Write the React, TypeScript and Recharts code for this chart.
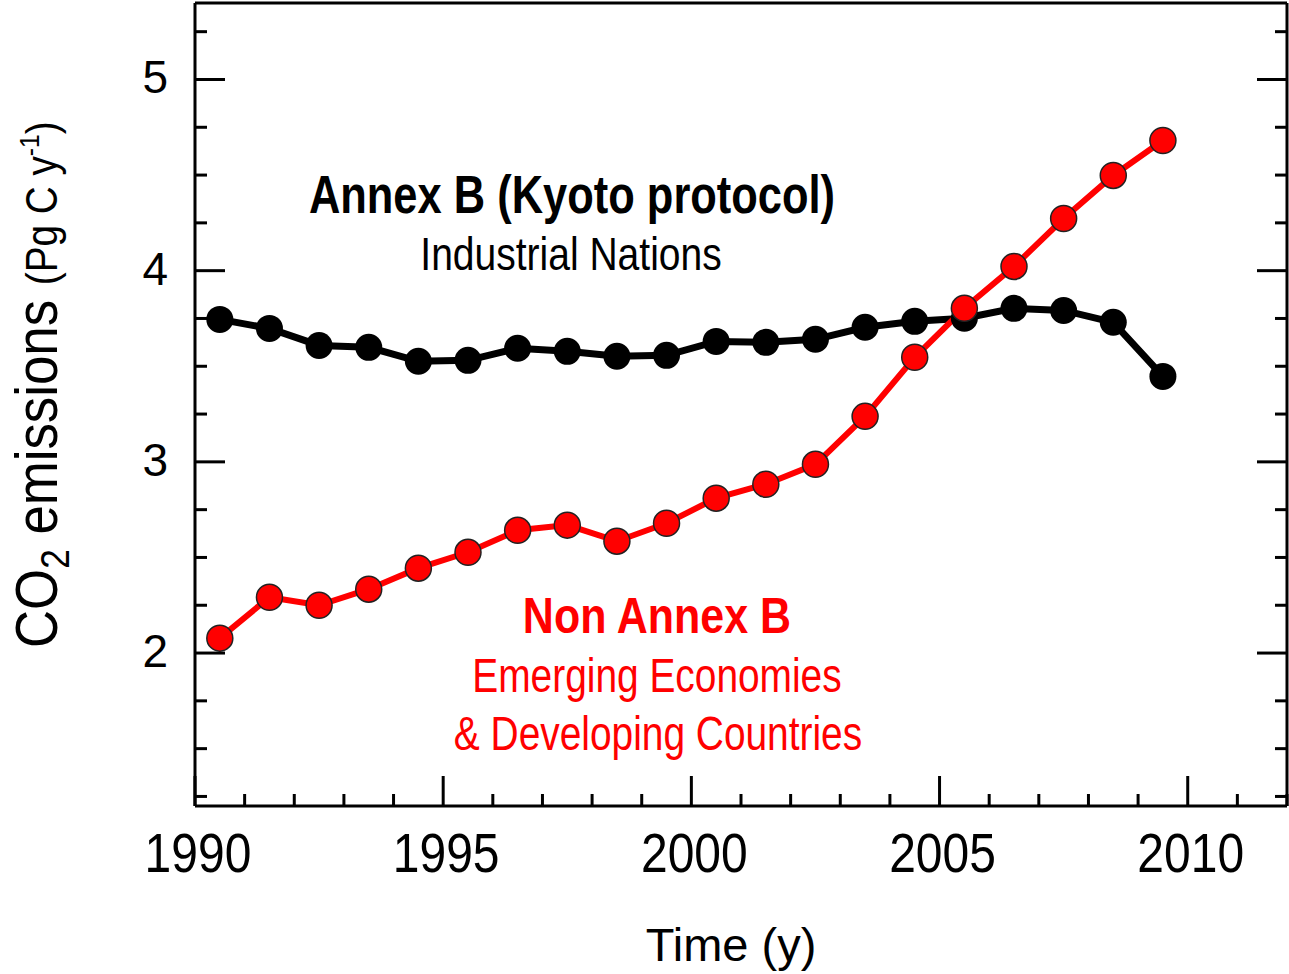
import React from 'react';
import { LineChart, Line, XAxis, YAxis } from 'recharts';

// annual fossil CO2 emissions, Pg C per year (mid-year points)
const years = [
  1990.5, 1991.5, 1992.5, 1993.5, 1994.5, 1995.5, 1996.5, 1997.5, 1998.5, 1999.5,
  2000.5, 2001.5, 2002.5, 2003.5, 2004.5, 2005.5, 2006.5, 2007.5, 2008.5, 2009.5,
];
const annexB = [
  3.745, 3.698, 3.609, 3.599, 3.526, 3.531, 3.594, 3.578, 3.552, 3.557,
  3.63, 3.625, 3.641, 3.704, 3.735, 3.751, 3.803, 3.792, 3.73, 3.447,
];
const nonAnnexB = [
  2.078, 2.292, 2.25, 2.334, 2.444, 2.527, 2.642, 2.669, 2.585, 2.679,
  2.81, 2.883, 2.987, 3.238, 3.547, 3.803, 4.022, 4.273, 4.498, 4.681,
];

const xTicks = [
  1990, 1991, 1992, 1993, 1994, 1995, 1996, 1997, 1998, 1999, 2000,
  2001, 2002, 2003, 2004, 2005, 2006, 2007, 2008, 2009, 2010, 2011, 2012,
];
const yTicks = [
  1.25, 1.5, 1.75, 2, 2.25, 2.5, 2.75, 3, 3.25, 3.5, 3.75, 4, 4.25, 4.5, 4.75, 5, 5.25,
];

const data = years.map((year, i) => ({ year, annexB: annexB[i], nonAnnexB: nonAnnexB[i] }));

const W = 1289;
const H = 974;
const FONT = '"Liberation Sans", Arial, Helvetica, sans-serif';
const RED = '#ff0000';

const XTick = ({ x, y, payload, side }: any) => {
  const major = payload.value % 5 === 0;
  const len = major ? 30 : 12;
  const dir = side === 'bottom' ? -1 : 1;
  return (
    <g>
      <line x1={x} y1={y} x2={x} y2={y + dir * len} stroke="#000" strokeWidth={3} />
      {side === 'bottom' && major && payload.value < 2012 && (
        <text
          transform={`translate(${x + 3},${y + 66}) scale(0.96,1.12)`}
          textAnchor="middle"
          fontSize={50}
          fontFamily={FONT}
          fill="#000"
        >
          {payload.value}
        </text>
      )}
    </g>
  );
};

const YTick = ({ x, y, payload, side }: any) => {
  const major = Math.abs(payload.value - Math.round(payload.value)) < 1e-6;
  const len = major ? 30 : 12;
  const dir = side === 'left' ? 1 : -1;
  return (
    <g>
      <line x1={x} y1={y} x2={x + dir * len} y2={y} stroke="#000" strokeWidth={3} />
      {side === 'left' && major && (
        <text x={x - 27} y={y + 14} textAnchor="end" fontSize={46} fontFamily={FONT} fill="#000">
          {payload.value}
        </text>
      )}
    </g>
  );
};

const blackDot = (props: any) => (
  <circle key={`b${props.index}`} cx={props.cx} cy={props.cy} r={13.5} fill="#000" />
);
const redDot = (props: any) => (
  <circle key={`r${props.index}`} cx={props.cx} cy={props.cy} r={13} fill={RED} stroke="#222" strokeWidth={1.5} />
);

const axisLine = { stroke: '#000', strokeWidth: 3 };

export default function App() {
  return (
    <div style={{ position: 'absolute', left: 0, top: 0, width: W, height: H, background: '#fff' }}>
      <LineChart width={W} height={H} data={data} margin={{ top: 0, right: 0, bottom: 0, left: 0 }}>
        <XAxis
          dataKey="year"
          type="number"
          domain={[1990, 2012]}
          ticks={xTicks}
          interval={0}
          height={168}
          tickSize={0}
          tickMargin={0}
          tickLine={false}
          axisLine={axisLine}
          tick={(p: any) => <XTick {...p} side="bottom" />}
          allowDataOverflow
        />
        <XAxis
          xAxisId="top"
          orientation="top"
          type="number"
          domain={[1990, 2012]}
          ticks={xTicks}
          interval={0}
          height={3}
          tickSize={0}
          tickMargin={0}
          tickLine={false}
          axisLine={axisLine}
          tick={(p: any) => <XTick {...p} side="top" />}
          allowDataOverflow
        />
        <YAxis
          type="number"
          domain={[1.2, 5.4]}
          ticks={yTicks}
          interval={0}
          width={195}
          tickSize={0}
          tickMargin={0}
          tickLine={false}
          axisLine={axisLine}
          tick={(p: any) => <YTick {...p} side="left" />}
          allowDataOverflow
        />
        <YAxis
          yAxisId="right"
          orientation="right"
          type="number"
          domain={[1.2, 5.4]}
          ticks={yTicks}
          interval={0}
          width={2}
          tickSize={0}
          tickMargin={0}
          tickLine={false}
          axisLine={axisLine}
          tick={(p: any) => <YTick {...p} side="right" />}
          allowDataOverflow
        />
        <Line
          dataKey="annexB"
          stroke="#000"
          strokeWidth={7}
          dot={blackDot}
          activeDot={false}
          isAnimationActive={false}
        />
        <Line
          dataKey="nonAnnexB"
          stroke={RED}
          strokeWidth={6}
          dot={redDot}
          activeDot={false}
          isAnimationActive={false}
        />
      </LineChart>

      <svg
        width={W}
        height={H}
        style={{ position: 'absolute', left: 0, top: 0, pointerEvents: 'none' }}
        fontFamily={FONT}
      >
        {/* y axis title */}
        <text transform="translate(57,648) rotate(-90) scale(0.88,1)" fill="#000">
          <tspan fontSize={60}>CO</tspan>
          <tspan fontSize={40} dy={12}>2</tspan>
          <tspan fontSize={60} dy={-12}> emissions </tspan>
          <tspan fontSize={44}>(Pg C y</tspan>
          <tspan fontSize={28} dy={-18}>-1</tspan>
          <tspan fontSize={44} dy={18}>)</tspan>
        </text>

        {/* x axis title */}
        <text x={731} y={961} textAnchor="middle" fontSize={47} fill="#000">
          Time (y)
        </text>

        {/* series annotations */}
        <text transform="translate(572,213) scale(0.82,1)" textAnchor="middle" fontSize={53} fontWeight="bold" fill="#000">
          Annex B (Kyoto protocol)
        </text>
        <text transform="translate(571,270) scale(0.83,1)" textAnchor="middle" fontSize={47} fill="#000">
          Industrial Nations
        </text>
        <text transform="translate(657,633) scale(0.86,1)" textAnchor="middle" fontSize={50} fontWeight="bold" fill={RED}>
          Non Annex B
        </text>
        <text transform="translate(657,692) scale(0.81,1)" textAnchor="middle" fontSize={48} fill={RED}>
          Emerging Economies
        </text>
        <text transform="translate(658,750) scale(0.81,1)" textAnchor="middle" fontSize={48} fill={RED}>
          &amp; Developing Countries
        </text>
      </svg>
    </div>
  );
}
